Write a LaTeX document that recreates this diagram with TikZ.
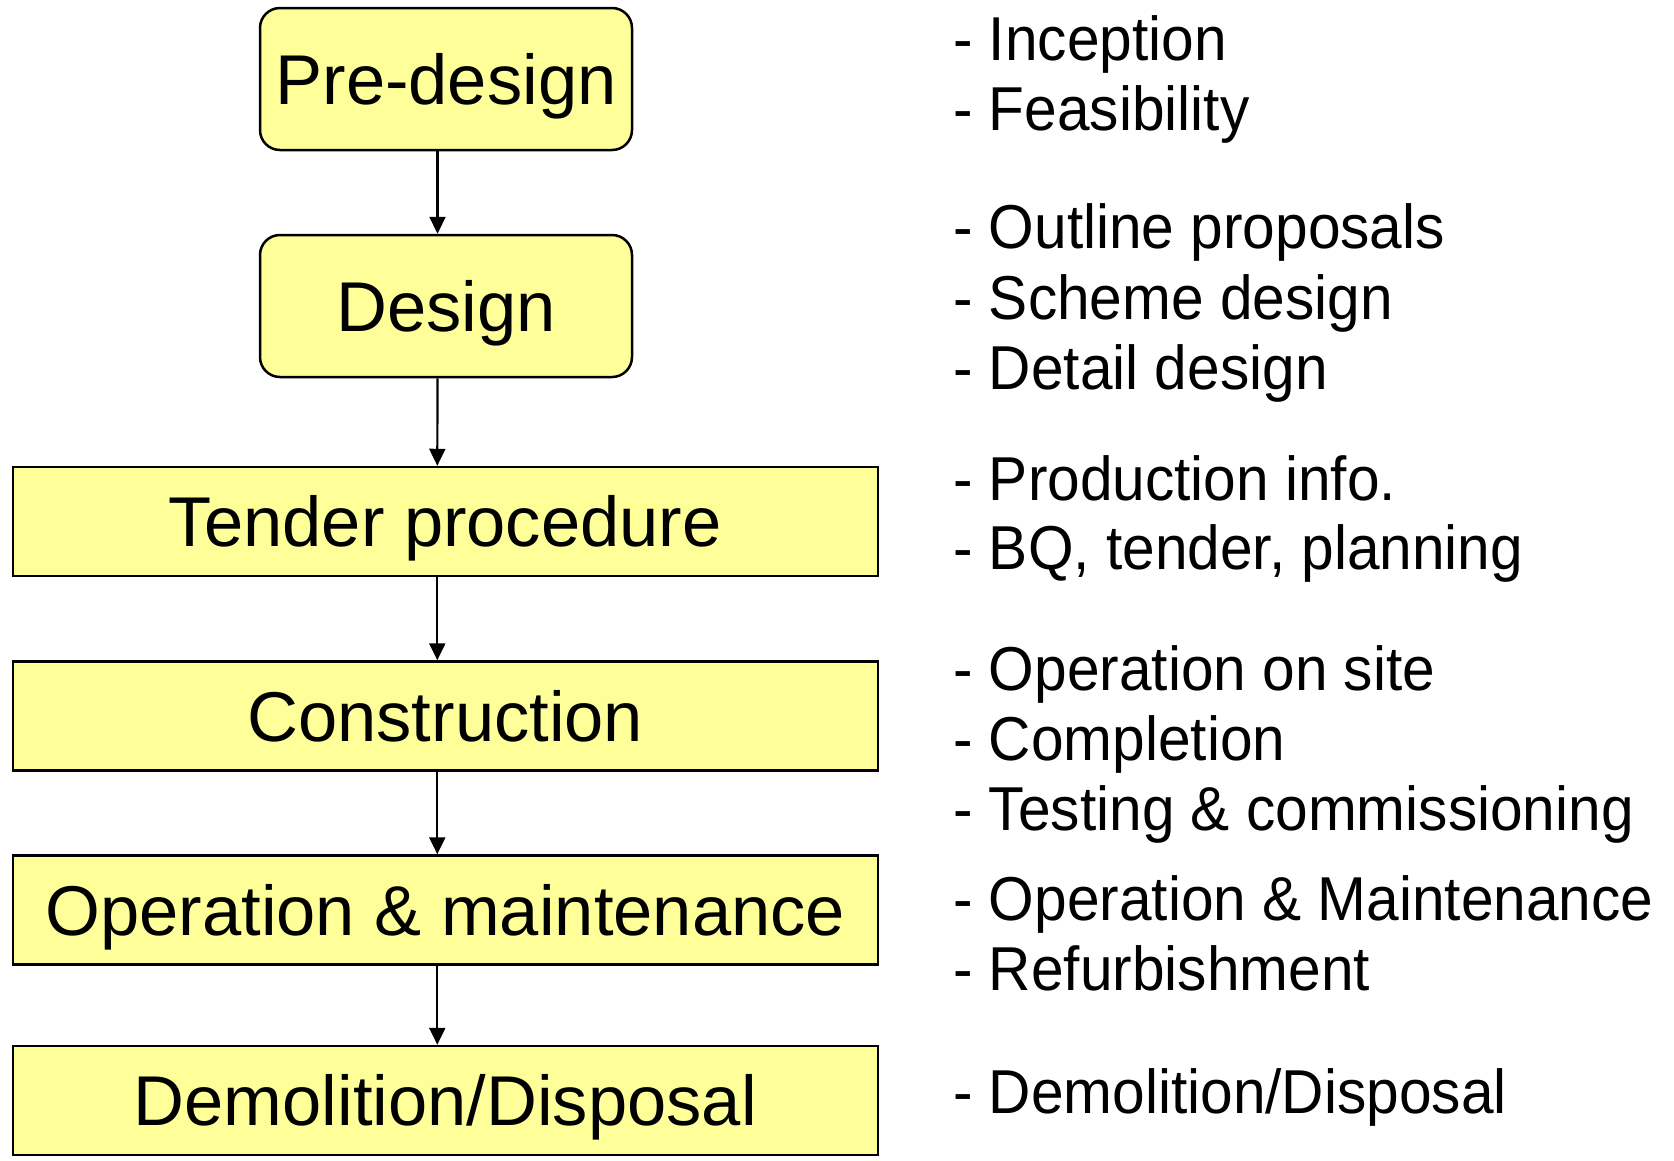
\documentclass[tikz,border=0pt]{standalone}
\usepackage{fontspec}
\setmainfont{Liberation Sans}
\newfontfamily\notefont[FakeStretch=0.945]{Liberation Sans}
\usetikzlibrary{arrows.meta}
\definecolor{boxyellow}{RGB}{255,255,153}
\begin{document}
\begin{tikzpicture}[x=1pt,y=-1pt,
  stage/.style={draw=black, fill=boxyellow, line width=2.5pt, inner sep=0pt,
    minimum width=372pt, minimum height=142pt,
    font=\fontsize{70.5}{80}\selectfont, text height=50.5pt, text depth=0pt},
  roundstage/.style={stage, rounded corners=20pt},
  widestage/.style={stage, minimum width=865pt, minimum height=109pt},
  arr/.style={-{Triangle[length=17pt,width=16pt]}, line width=2.2pt},
  note/.style={anchor=base west, inner sep=0pt, font=\notefont\fontsize{62}{70}\selectfont}]
\useasboundingbox (0,0) rectangle (1674,1160);

\node[roundstage] (pre) at (446,79) {Pre-design};
\node[roundstage] (des) at (446,306) {Design};
\node[widestage] (ten) at (445.3,521.5) {Tender procedure};
\node[widestage] (con) at (445.3,716) {Construction};
\node[widestage] (ope) at (445.3,910) {Operation \& maintenance};
\node[widestage] (dem) at (445.3,1100.5) {Demolition/Disposal};

\draw[arr] ([xshift=-8.5pt]pre.south) -- ([xshift=-8.5pt]des.north);
\draw[arr] ([xshift=-8.5pt]des.south) -- ([xshift=-8pt]ten.north);
\draw[arr] ([xshift=-8pt]ten.south) -- ([xshift=-8pt]con.north);
\draw[arr] ([xshift=-8pt]con.south) -- ([xshift=-8pt]ope.north);
\draw[arr] ([xshift=-8pt]ope.south) -- ([xshift=-8pt]dem.north);

\node[note] (n1) at (953,60) {- Inception};
\node[note] (n2) at (953,130) {- Feasibility};
\node[note] (n3) at (953,248) {- Outline proposals};
\node[note] (n4) at (953,319) {- Scheme design};
\node[note] (n5) at (953,389) {- Detail design};
\node[note] (n6) at (953,500) {- Production info.};
\node[note] (n7) at (953,569) {- BQ, tender, planning};
\node[note] (n8) at (953,690) {- Operation on site};
\node[note] (n9) at (953,760) {- Completion};
\node[note] (n10) at (953,830) {- Testing \& commissioning};
\node[note] (n11) at (953,920) {- Operation \& Maintenance};
\node[note] (n12) at (953,990) {- Refurbishment};
\node[note] (n13) at (953,1113) {- Demolition/Disposal};
\end{tikzpicture}
\end{document}
